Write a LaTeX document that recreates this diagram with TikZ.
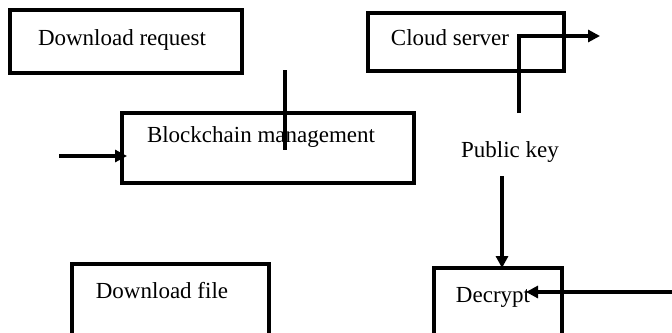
\documentclass[tikz,border=0pt]{standalone}
\usepackage{fontspec}
\setmainfont{Liberation Serif}
\usetikzlibrary{arrows.meta}
\begin{document}
\begin{tikzpicture}[x=0.5pt,y=-0.5pt,
  box/.style={draw,line width=1.9pt,rectangle,inner sep=0pt},
  lbl/.style={font=\fontsize{11.5}{13}\selectfont,inner sep=0pt,anchor=center},
  conn/.style={line width=1.8pt},
  arr/.style={line width=1.8pt,-{Triangle[length=6pt,width=6pt]}}]
\useasboundingbox (0,0) rectangle (672,332);
\clip (0,0) rectangle (672,332);
% boxes
\draw[box] (10,10) rectangle (242,73);
\draw[box] (122,113) rectangle (414,183);
\draw[box] (368,13) rectangle (564,71);
\draw[box] (72,264) rectangle (269,350);
\draw[box] (434,268) rectangle (562,350);
% labels
\node[lbl] (treq) at (122,40) {Download request};
\node[lbl] (tblock) at (261,137) {Blockchain management};
\node[lbl] (tcloud) at (450,38) {Cloud server};
\node[lbl] (tkey) at (510,152) {Public key};
\node[lbl] (tfile) at (162,291) {Download file};
\node[lbl] (tdec) at (493,297) {Decrypt};
% connector endpoints
\coordinate (a1) at (285,70);
\coordinate (a2) at (285,150);
\coordinate (b1) at (59,156);
\coordinate (b2) at (127,156);
\coordinate (c1) at (519,113);
\coordinate (c2) at (519,36);
\coordinate (c3) at (600,36);
\coordinate (d1) at (502,176);
\coordinate (d2) at (502,268);
\coordinate (e1) at (672,292);
\coordinate (e2) at (526,292);
% connectors
\draw[conn] (a1) -- (a2);
\draw[arr] (b1) -- (b2);
\draw[arr] (c1) -- (c2) -- (c3);
\draw[arr] (d1) -- (d2);
\draw[arr] (e1) -- (e2);
\end{tikzpicture}
\end{document}
